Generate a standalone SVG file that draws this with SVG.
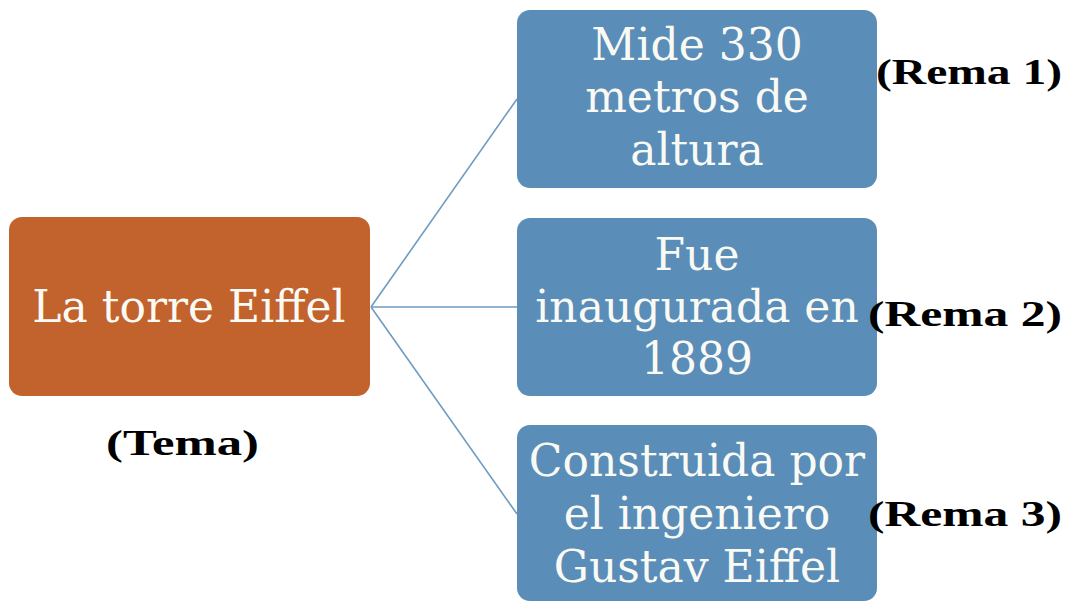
<svg xmlns="http://www.w3.org/2000/svg" width="1066" height="602" viewBox="0 0 1066 602">
  <style>
    .box-o { fill: #C2622D; }
    .box-b { fill: #5A8DB7; }
    .t { font-family: "DejaVu Serif", "Liberation Serif", serif; font-size: 44px; fill: #FAFAF5; text-anchor: middle; }
    .lbl { font-family: "Liberation Serif", "DejaVu Serif", serif; font-weight: bold; font-size: 36px; fill: #000; }
    .conn { stroke: #6E9BC2; stroke-width: 1.6; fill: none; }
  </style>
  <rect width="1066" height="602" fill="#FFFFFF"/>
  <g id="connectors">
    <line class="conn" x1="371" y1="307" x2="517" y2="99"/>
    <line class="conn" x1="371" y1="307" x2="517" y2="307"/>
    <line class="conn" x1="371" y1="307" x2="517" y2="514"/>
  </g>
  <g id="tema">
    <rect class="box-o" x="9" y="217" width="361" height="179" rx="13"/>
    <text class="t" x="189" y="322">La torre Eiffel</text>
  </g>
  <g id="rema1">
    <rect class="box-b" x="517" y="10" width="360" height="178" rx="13"/>
    <text class="t" x="697" y="60">Mide 330</text>
    <text class="t" x="697" y="112">metros de</text>
    <text class="t" x="697" y="165">altura</text>
  </g>
  <g id="rema2">
    <rect class="box-b" x="517" y="218" width="360" height="178" rx="13"/>
    <text class="t" x="697" y="270">Fue</text>
    <text class="t" x="697" y="322">inaugurada en</text>
    <text class="t" x="697" y="374">1889</text>
  </g>
  <g id="rema3">
    <rect class="box-b" x="517" y="425" width="360" height="176" rx="13"/>
    <text class="t" x="697" y="476">Construida por</text>
    <text class="t" x="697" y="529">el ingeniero</text>
    <text class="t" x="697" y="582">Gustav Eiffel</text>
  </g>
  <g id="labels">
    <text class="lbl" x="106" y="455" textLength="153" lengthAdjust="spacingAndGlyphs">(Tema)</text>
    <text class="lbl" x="876" y="84" textLength="186" lengthAdjust="spacingAndGlyphs">(Rema 1)</text>
    <text class="lbl" x="868" y="326" textLength="194" lengthAdjust="spacingAndGlyphs">(Rema 2)</text>
    <text class="lbl" x="868" y="526" textLength="194" lengthAdjust="spacingAndGlyphs">(Rema 3)</text>
  </g>
</svg>
